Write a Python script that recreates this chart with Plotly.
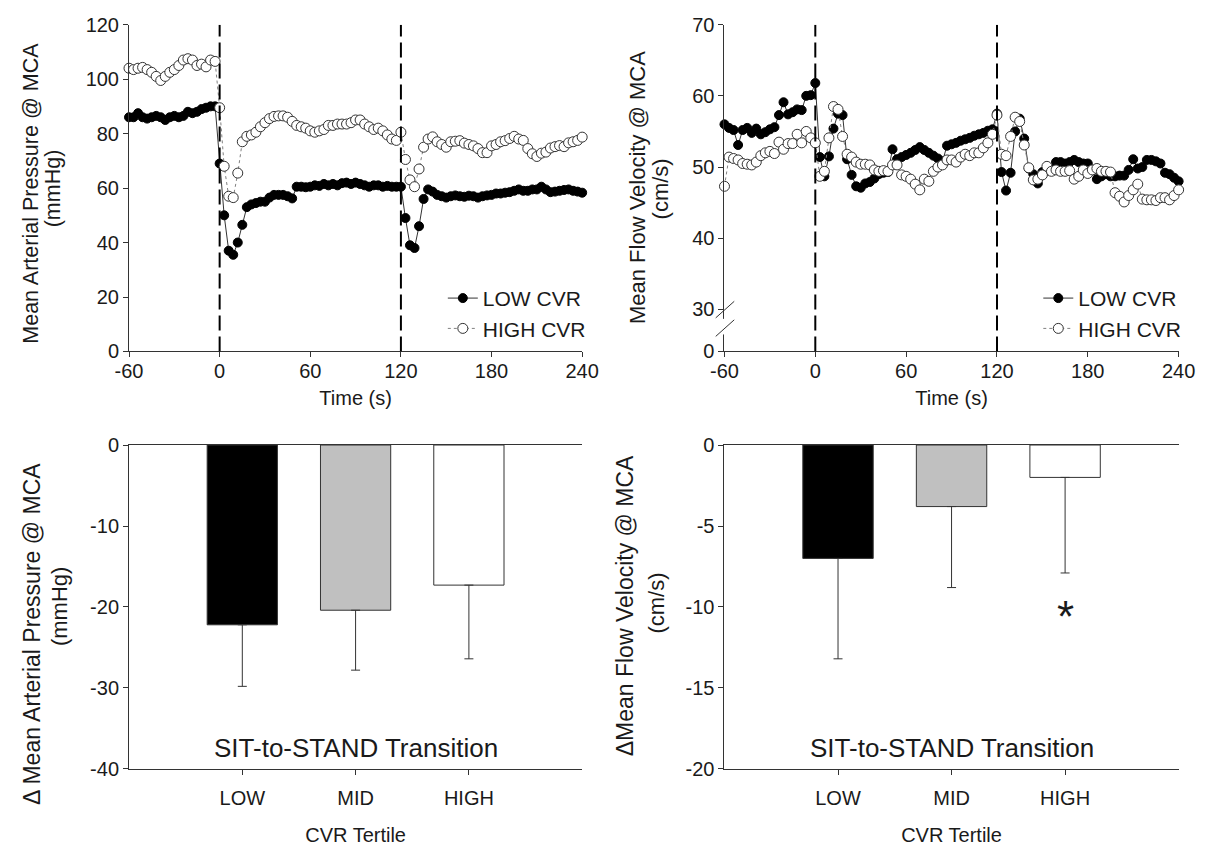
import plotly.graph_objects as go

# ---------------- data ----------------
time_s = list(range(-60, 241, 3))

map_low_cvr = [86, 86, 87.5, 86, 85.5, 86, 86.5, 86, 85, 86, 86.5, 86, 86.5, 88, 87.5, 88, 89, 89.5, 90, 90,
               69,
               50, 37, 35.5, 40, 46.5, 53, 54, 54.5, 55, 55, 56.5, 57.5, 57.5, 57.5, 57, 56.2, 60.5, 60.5, 60.3, 60.5,
               61, 60.8, 61.5, 61, 61.5, 61, 61.8, 62, 61.5, 62, 61.5, 61, 60.5, 61, 61, 60.5, 60.8, 60.5, 60.5, 60.5,
               49, 39, 38, 46, 56, 59.5, 58.7, 57.5, 57, 56.5, 57, 57.3, 57, 56.8, 57.2, 57, 56.5, 57, 57.3, 57.5,
               58, 58, 58.3, 58.5, 59, 59.5, 59, 59, 59.5, 59.5, 60.5, 59.5, 58.5, 58.7, 59, 59.3, 59.5, 59, 58.7, 58.3]

map_high_cvr = [104, 103.5, 104, 104.3, 103.5, 102.5, 101, 99.5, 101, 102.5, 103.5, 105, 107, 107.5, 107, 105, 105.5, 104.5, 107, 106.5,
                89.5,
                68, 57, 56.5, 65.5, 77, 79, 79.5, 80.5, 82.5, 84, 85.5, 86.3, 86.5, 86.5, 86, 84.5, 83, 82.5, 82, 81,
                80.5, 81, 81.5, 83, 83, 83.5, 83.5, 83.5, 84, 85, 85, 83.5, 82.5, 81.5, 82, 81, 79.5, 78, 77.5, 80.5,
                70.5, 63, 60.5, 67, 75, 78, 78.8, 77, 76, 75, 77, 77.2, 77.4, 76.5, 76, 75.5, 74.5, 73, 73, 75.5,
                76, 77, 77.4, 78.2, 79, 78, 77.5, 74.5, 72.6, 71.6, 72.8, 73.2, 74.7, 75.2, 75.6, 75.2, 76.6, 77, 77.5, 78.7]

mfv_low_cvr = [56, 55.5, 55.2, 53.1, 55.2, 55.5, 54.8, 55.4, 54.6, 54.9, 55.3, 55.6, 57.3, 59.1, 57.4, 57.7, 58.1, 58, 60, 60.1,
               61.8,
               51.4, 48.7, 51.5, 55.4, 57.5, 57.3, 51.1, 48.9, 47.3, 47.1, 47.7, 47.9, 48.4, 49, 49.2, 49.3, 52.5, 51.1, 51.4, 51.7,
               52, 52.4, 52.8, 52.4, 52, 51.6, 51.2, 50.8, 53, 53.2, 53.4, 53.7, 53.9, 54.1, 54.4, 54.6, 54.8, 55.1, 55.3, 57.5,
               49.3, 46.7, 49.2, 55, 56.8, 54, 49.8, 49, 47.7, 49.3, 49.5, 49.6, 50.7, 50.7, 50.5, 50.7, 51, 50.7, 50.5, 50.5,
               49.5, 48.3, 48.7, 49, 48.7, 48.7, 48.8, 48.8, 49.6, 51.1, 49.8, 50, 51, 51, 50.8, 50.5, 49.2, 49, 48.5, 48]

mfv_high_cvr = [47.3, 51.4, 51.2, 51, 50.5, 50.4, 50.3, 50.7, 51.6, 52, 52.2, 51.9, 53.5, 52.5, 53.3, 53.3, 54.6, 53.4, 55, 54.1,
                53.4,
                48.7, 49.4, 54.1, 58.5, 58.1, 54.3, 51.8, 51.4, 50.7, 50.4, 50.4, 50.3, 49.6, 49.4, 49.5, 49.4, 50.3, 50.3, 48.9, 48.7,
                48.3, 47.6, 46.8, 48.3, 48, 49.4, 50, 50.3, 51, 51, 50.7, 51.4, 51.8, 51.6, 52, 52, 52.7, 53.4, 54.6, 57.3,
                51.8, 51.6, 54.3, 57, 56.4, 53.1, 49.9, 48.2, 48.3, 48.9, 50.1, 49.4, 49.6, 49.4, 49.4, 49.5, 48.3, 48.7, 49.6, 49.1,
                49.6, 49.8, 49.4, 49.4, 49.3, 46.4, 45.9, 45.1, 46, 46.8, 47.6, 45.5, 45.4, 45.4, 45.3, 45.7, 45.7, 45.4, 46, 46.8]

transition_times = [0, 120]
time_ticks = [-60, 0, 60, 120, 180, 240]
time_ticktext = ["-60", "0", "60", "120", "180", "240"]

tertiles = ["LOW", "MID", "HIGH"]
tertile_pos = [1, 2, 3]
map_change = [-22.2, -20.4, -17.3]
map_sd = [7.6, 7.4, 9.1]
mfv_change = [-7.0, -3.8, -2.0]
mfv_sd = [6.2, 5.0, 5.9]
bar_colors = ["#000000", "#c0c0c0", "#ffffff"]

# ---------------- figure ----------------
FONT = "Arial, 'Liberation Sans', sans-serif"
TXT = "#1a1a1a"
AX = "#333333"
W, H = 1220, 854

fig = go.Figure()


def series(xa, ya, y, name, filled, legend):
    fig.add_trace(go.Scatter(
        x=time_s, y=y, name=name, mode="lines+markers", xaxis=xa, yaxis=ya, legend=legend,
        line=dict(color="#333333" if filled else "#808080", width=1, dash="solid" if filled else "dot"),
        marker=dict(symbol="circle", size=9 if filled else 10,
                    color="#000000" if filled else "#ffffff",
                    line=dict(color="#000000" if filled else "#333333", width=1)),
        cliponaxis=False))


series("x", "y", map_low_cvr, "LOW CVR", True, "legend")
series("x", "y", map_high_cvr, "HIGH CVR", False, "legend")
series("x2", "y2", mfv_low_cvr, "LOW CVR", True, "legend2")
series("x2", "y2", mfv_high_cvr, "HIGH CVR", False, "legend2")

for xa, ya, vals, sds in [("x3", "y3", map_change, map_sd), ("x4", "y4", mfv_change, mfv_sd)]:
    fig.add_trace(go.Bar(
        x=tertile_pos, y=vals, xaxis=xa, yaxis=ya, width=0.62, showlegend=False,
        marker=dict(color=bar_colors, line=dict(color="#333333", width=1)),
        error_y=dict(type="data", symmetric=False, array=[0, 0, 0], arrayminus=sds,
                     color="#333333", thickness=1, width=4.5)))

# axis domains (paper fractions)
xl = [118 / W, 583 / W]
xr = [729 / W, 1195 / W]
yt = [1 - 349.5 / H, 1 - 14 / H]
yb = [1 - 778 / H, 1 - 445.5 / H]

tickfont = dict(family=FONT, size=20, color=TXT)
xtitlefont = dict(family=FONT, size=20, color=TXT)
common = dict(showgrid=False, zeroline=False, showline=True, linecolor=AX, linewidth=1,
              ticks="outside", ticklen=5, tickcolor=AX, tickwidth=1, tickfont=tickfont)

MFV_BREAK = 24.1

fig.update_layout(
    width=W, height=H, margin=dict(l=0, r=0, t=0, b=0),
    paper_bgcolor="white", plot_bgcolor="white",
    font=dict(family=FONT, size=20, color=TXT),
    xaxis=dict(domain=xl, anchor="y", range=[-60, 240], tickvals=time_ticks, ticktext=time_ticktext,
               ticklabelstandoff=-3, title=dict(text="Time (s)", standoff=9, font=xtitlefont), **common),
    yaxis=dict(domain=yt, anchor="x", range=[0, 120], tickvals=[0, 20, 40, 60, 80, 100, 120], **common),
    xaxis2=dict(domain=xr, anchor="y2", range=[-60, 240], tickvals=time_ticks, ticktext=time_ticktext,
                ticklabelstandoff=-3, title=dict(text="Time (s)", standoff=9, font=xtitlefont), **common),
    yaxis2=dict(domain=yt, anchor="x2", range=[MFV_BREAK, 70], tickvals=[MFV_BREAK, 30, 40, 50, 60, 70],
                ticktext=["0", "30", "40", "50", "60", "70"], **common),
    xaxis3=dict(domain=xl, anchor="y3", range=[0, 4], tickvals=tertile_pos, ticktext=tertiles, mirror=True,
                ticklabelstandoff=6, title=dict(text="CVR Tertile", standoff=20, font=xtitlefont), **common),
    yaxis3=dict(domain=yb, anchor="x3", range=[-40, 0], tickvals=[0, -10, -20, -30, -40],
                ticktext=["0", "-10", "-20", "-30", "-40"], **common),
    xaxis4=dict(domain=xr, anchor="y4", range=[0, 4], tickvals=tertile_pos, ticktext=tertiles, mirror=True,
                ticklabelstandoff=6, title=dict(text="CVR Tertile", standoff=20, font=xtitlefont), **common),
    yaxis4=dict(domain=yb, anchor="x4", range=[-20, 0], tickvals=[0, -5, -10, -15, -20],
                ticktext=["0", "-5", "-10", "-15", "-20"], **common),
    legend=dict(x=440 / W, y=1 - 274 / H, xanchor="left", yanchor="top", bgcolor="rgba(0,0,0,0)",
                font=dict(family=FONT, size=21, color=TXT), tracegroupgap=0),
    legend2=dict(x=1051 / W, y=1 - 274 / H, xanchor="left", yanchor="top", bgcolor="rgba(0,0,0,0)",
                 font=dict(family=FONT, size=21, color=TXT), tracegroupgap=0),
)

shapes = []
for t in transition_times:
    shapes.append(dict(type="line", xref="x", yref="y", x0=t, x1=t, y0=0, y1=120,
                       line=dict(color="#000000", width=2, dash="15px,6px")))
    shapes.append(dict(type="line", xref="x2", yref="y2", x0=t, x1=t, y0=MFV_BREAK, y1=70,
                       line=dict(color="#000000", width=2, dash="15px,6px")))
# axis break on the flow-velocity axis
shapes.append(dict(type="rect", xref="paper", yref="paper", x0=725 / W, x1=733 / W,
                   y0=1 - 332 / H, y1=1 - 316 / H, fillcolor="white", line=dict(width=0), layer="above"))
shapes.append(dict(type="line", xref="paper", yref="paper", x0=720 / W, x1=739 / W,
                   y0=1 - 315 / H, y1=1 - 298 / H, line=dict(color=AX, width=1)))
shapes.append(dict(type="line", xref="paper", yref="paper", x0=720 / W, x1=739 / W,
                   y0=1 - 334 / H, y1=1 - 317 / H, line=dict(color=AX, width=1)))
fig.update_layout(shapes=shapes)

# y-axis titles (one annotation per line, rotated)
ytitles = [
    ("Mean Arterial Pressure @ MCA", 18, 187, 21.5),
    ("(mmHg)", 40, 182, 21.5),
    ("Mean Flow Velocity @ MCA", 640, 181, 22),
    ("(cm/s)", 663, 183, 22),
    ("Δ Mean Arterial Pressure @ MCA", 18, 640, 23),
    ("(mmHg)", 46, 611, 22),
    ("ΔMean Flow Velocity @ MCA", 627, 611, 23),
    ("(cm/s)", 659, 608, 22),
]
for txt, px, py, fs in ytitles:
    fig.add_annotation(xref="paper", yref="paper", x=px / W, y=1 - py / H, text=txt, textangle=-90,
                       showarrow=False, xanchor="center", yanchor="middle",
                       font=dict(family=FONT, size=fs, color=TXT))

fig.add_annotation(xref="x3", yref="y3", x=2, y=-37.4, text="SIT-to-STAND Transition", showarrow=False,
                   font=dict(family=FONT, size=26, color=TXT))
fig.add_annotation(xref="x4", yref="y4", x=2, y=-18.7, text="SIT-to-STAND Transition", showarrow=False,
                   font=dict(family=FONT, size=26, color=TXT))
fig.add_annotation(xref="x4", yref="y4", x=3, y=-10.6, text="*", showarrow=False,
                   font=dict(family=FONT, size=44, color=TXT))

fig.write_html("out.html")
